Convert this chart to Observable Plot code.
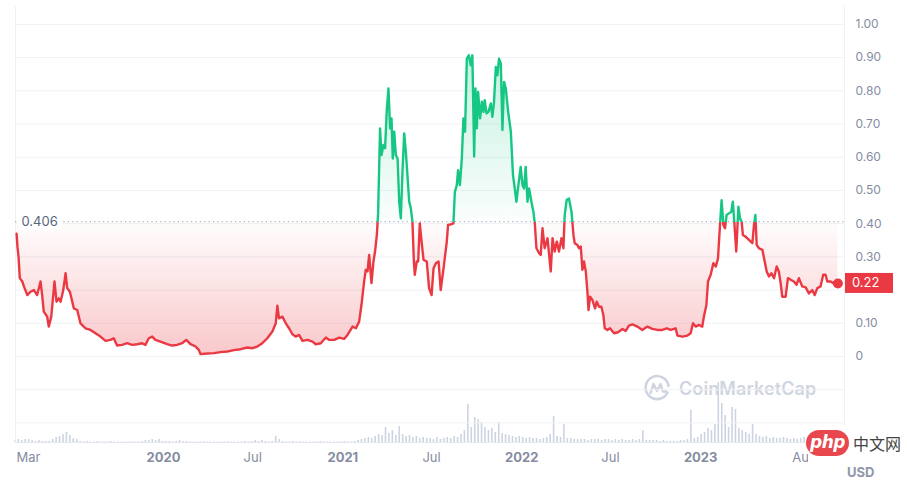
<!DOCTYPE html>
<html>
<head>
<meta charset="utf-8">
<script src="https://cdn.jsdelivr.net/npm/d3@7"></script>
<script src="https://cdn.jsdelivr.net/npm/@observablehq/plot@0.6"></script>
<style>
  html, body { margin: 0; padding: 0; background: #ffffff; }
  #wrap { position: relative; width: 907px; height: 480px; overflow: hidden; font-family: Inter, "Noto Sans", sans-serif; }
  #wrap > svg { position: absolute; left: 0; top: 0; }
  #cmc { position: absolute; left: 643px; top: 374px; display: flex; align-items: center; gap: 8px; color: #cfd5e0; }
  #cmc span { font: 600 18px Inter, sans-serif; letter-spacing: 0.1px; }
  #wm { position: absolute; left: 808px; top: 425px; width: 99px; height: 44px; background: #ffffff; }
  #php { position: absolute; left: 806px; top: 430px; width: 43px; height: 26px; border-radius: 13px; background: #e8474d;
         color: #fff; font: italic 700 17px "DejaVu Sans", sans-serif; text-align: center; line-height: 25px; letter-spacing: -0.5px; }
  #cn { position: absolute; left: 853px; top: 431px; font: 400 16px "Noto Sans CJK SC", sans-serif; color: #444; }
  #usd { position: absolute; left: 847px; top: 464px; font: 700 13px Inter, sans-serif; color: #8f97a8; }
</style>
</head>
<body>
<div id="wrap"></div>
<script>
// ---- Price (USD), dates as decimal years ----
const priceYears = [
  2019.179,2019.184,2019.190,2019.197,2019.211,2019.220,2019.239,2019.257,2019.276,2019.294,
  2019.313,2019.322,2019.331,2019.350,2019.359,2019.373,2019.391,2019.402,2019.415,2019.425,
  2019.440,2019.453,2019.462,2019.477,2019.499,2019.518,2019.536,2019.564,2019.592,2019.620,
  2019.648,2019.676,2019.704,2019.722,2019.741,2019.769,2019.797,2019.825,2019.853,2019.881,
  2019.899,2019.918,2019.937,2019.955,2019.983,2020.021,2020.049,2020.076,2020.104,2020.127,
  2020.151,2020.179,2020.197,2020.207,2020.244,2020.281,2020.318,2020.356,2020.393,2020.430,
  2020.468,2020.496,2020.523,2020.551,2020.579,2020.607,2020.626,2020.635,2020.644,2020.663,
  2020.682,2020.700,2020.719,2020.737,2020.756,2020.775,2020.803,2020.831,2020.849,2020.877,
  2020.905,2020.924,2020.952,2020.980,2021.007,
  2021.026,2021.054,2021.073,2021.091,2021.104,2021.119,2021.128,2021.138,2021.147,2021.160,
  2021.171,2021.180,2021.190,2021.197,2021.208,2021.216,2021.227,2021.236,2021.246,2021.255,
  2021.264,2021.272,2021.279,2021.287,2021.296,2021.306,2021.315,2021.324,2021.334,2021.343,
  2021.352,2021.361,2021.371,2021.380,2021.389,2021.397,2021.402,2021.413,2021.421,2021.430,
  2021.440,2021.451,2021.469,2021.482,2021.496,2021.507,2021.520,2021.535,2021.547,2021.563,
  2021.581,2021.588,2021.603,2021.618,2021.626,2021.637,2021.644,2021.654,2021.665,2021.674,
  2021.683,2021.693,2021.704,2021.715,2021.724,2021.734,2021.741,2021.749,2021.756,2021.767,
  2021.777,2021.786,2021.793,2021.803,2021.814,2021.827,2021.836,2021.845,2021.855,2021.864,
  2021.873,2021.883,2021.892,2021.901,2021.911,2021.924,2021.939,2021.951,2021.961,2021.970,
  2021.979,2021.994,2022.004,2022.013,2022.022,2022.032,2022.041,2022.054,2022.065,2022.073,
  2022.082,2022.097,2022.106,2022.116,2022.128,2022.144,2022.162,2022.172,2022.184,2022.196,
  2022.208,2022.222,
  2022.233,2022.240,2022.251,2022.264,2022.278,2022.289,2022.296,2022.311,2022.320,2022.330,
  2022.339,2022.348,2022.358,2022.367,2022.373,2022.382,2022.395,2022.410,2022.419,2022.432,
  2022.445,2022.456,2022.464,2022.479,2022.493,2022.516,2022.538,2022.563,2022.581,2022.599,
  2022.618,2022.646,2022.674,2022.702,2022.730,2022.758,2022.786,2022.810,2022.832,2022.860,
  2022.870,2022.898,2022.926,2022.944,2022.957,2022.972,2022.991,2023.009,2023.018,2023.032,
  2023.041,2023.056,2023.071,2023.085,2023.097,2023.108,2023.117,2023.127,2023.136,2023.145,
  2023.158,2023.171,2023.180,2023.188,2023.199,2023.211,2023.220,2023.229,2023.236,2023.251,
  2023.270,2023.289,2023.298,2023.306,2023.313,2023.326,2023.345,2023.358,2023.369,2023.382,
  2023.395,2023.410,2023.425,2023.437,2023.447,2023.456,2023.475,2023.488,2023.503,2023.521,
  2023.536,2023.549,2023.568,2023.587,2023.605,2023.624,2023.637,2023.652,2023.670,2023.685,
  2023.698,2023.708,2023.726,2023.741,2023.754,2023.767
];
const priceValues = [
  0.370,0.330,0.300,0.236,0.226,0.211,0.185,0.195,0.200,0.185,
  0.226,0.185,0.135,0.120,0.090,0.120,0.226,0.165,0.175,0.165,
  0.200,0.251,0.206,0.195,0.145,0.140,0.100,0.085,0.080,0.070,
  0.060,0.047,0.050,0.055,0.033,0.035,0.040,0.035,0.037,0.040,
  0.035,0.055,0.060,0.050,0.045,0.037,0.033,0.035,0.040,0.050,
  0.037,0.030,0.020,0.007,0.009,0.010,0.013,0.015,0.019,0.022,
  0.027,0.025,0.030,0.040,0.055,0.075,0.100,0.153,0.115,0.120,
  0.100,0.085,0.067,0.060,0.065,0.047,0.050,0.045,0.037,0.040,
  0.057,0.050,0.050,0.057,0.053,
  0.065,0.090,0.085,0.105,0.155,0.226,0.261,0.256,0.306,0.221,
  0.286,0.316,0.366,0.431,0.687,0.607,0.637,0.627,0.747,0.807,
  0.687,0.717,0.596,0.677,0.607,0.596,0.466,0.416,0.566,0.672,
  0.617,0.546,0.466,0.446,0.406,0.286,0.246,0.286,0.286,0.401,
  0.346,0.291,0.286,0.206,0.185,0.266,0.281,0.286,0.200,0.266,
  0.346,0.396,0.398,0.401,0.496,0.516,0.561,0.516,0.596,0.717,
  0.677,0.897,0.907,0.877,0.907,0.602,0.807,0.687,0.797,0.717,
  0.767,0.737,0.772,0.732,0.737,0.762,0.722,0.767,0.872,0.847,
  0.897,0.882,0.682,0.827,0.807,0.737,0.677,0.546,0.506,0.466,
  0.506,0.571,0.516,0.506,0.571,0.466,0.506,0.466,0.436,0.401,
  0.326,0.311,0.306,0.386,0.326,0.356,0.256,0.356,0.316,0.346,
  0.316,0.356,
  0.326,0.426,0.471,0.476,0.436,0.366,0.341,0.336,0.326,0.331,
  0.261,0.286,0.256,0.195,0.140,0.180,0.170,0.145,0.165,0.150,
  0.150,0.125,0.085,0.080,0.085,0.070,0.073,0.083,0.077,0.093,
  0.097,0.090,0.080,0.090,0.083,0.080,0.080,0.085,0.080,0.085,
  0.063,0.060,0.063,0.070,0.100,0.090,0.095,0.090,0.120,0.155,
  0.226,0.246,0.281,0.271,0.296,0.396,0.471,0.396,0.386,0.426,
  0.431,0.436,0.466,0.406,0.316,0.451,0.416,0.406,0.366,0.361,
  0.351,0.341,0.396,0.426,0.336,0.326,0.321,0.286,0.256,0.241,
  0.251,0.236,0.271,0.256,0.221,0.180,0.180,0.236,0.231,0.226,
  0.216,0.236,0.211,0.208,0.190,0.200,0.185,0.206,0.211,0.246,
  0.246,0.226,0.226,0.221,0.226,0.220
];
const baselinePrice = 0.406;
const baselineLabel = "0.406";
const lastPriceLabel = "0.22";

// ---- Trading volume (relative), weekly from volumeStart ----
const volumeStart = "2019-03-04";
const volumeStepDays = 7;
const volume = [
  2,3,2,3,3,2,1,2, 1,1,1, 3,5,6,8,10,7,4,3,
  1,0.5,1,0.5,0.5,1,0.5,0.5,0.5,1,0.5,0.5,0.5,0.5,0.5,0.5,0.5,0.5,1,
  2,2,3,2,3,1,1, 1,0.5,1,2,1,1,0.5,0.5,
  0.5,0.5,0.5,0.5,0.5,0.5,0.5,0.5,0.5,0.5,0.5,0.5,0.5,0.5,1,
  0.5,1,2,1,2,1,0.5,1,6,3,1,
  0.5,0.5,1,0.5,0.5,0.5,0.5,0.5,0.5,0.5,1,0.5,0.5,0.5,0.5,0.5,0.5,1,0.5,0.5,1,2,
  3,4,5,4,6,8,7,15,9,12,7,16,8,6,7,5,6,4,5,4,4,3,5,3,4,5,4,6,5,8,
  12,38,15,25,23,20,15,12,14,10,20,9,8,7,6,5,6,5,4,5,
  4,4,3,4,5,8,26,6,5,18,4,4,3,3,3,3,2,3,3,3,
  2,3,3,2,3,2,3,2,2,3,2,3,12,2,2,
  2,2,1,2,1,1,1,1,2,2,3,
  32,4,5,8,10,14,12,18,60,39,27,15,35,33,14,12,10,8,18,
  8,6,5,6,4,5,4,4,5,4,3,4,3,4,5,3,3,3,2,2,3,2,2
];
const volumeMax = 436;

// ---- Axes ----
const xDomainYears = [2019.173, 2023.804];
const yDomain = [-0.259, 1.054];
const yTickValues = [0, 0.1, 0.3, 0.4, 0.5, 0.6, 0.7, 0.8, 0.9, 1.0];
const gridValues = [-0.2, -0.1, 0, 0.1, 0.2, 0.3, 0.4, 0.5, 0.6, 0.7, 0.8, 0.9, 1.0];
const xYearTicks = ["2020-01-01", "2021-01-01", "2022-01-01", "2023-01-01"];
const xYearLabels = ["2020", "2021", "2022", "2023"];
const xMonthTicks = ["2020-07-01", "2021-07-01", "2022-07-01", "2023-08-01"];
const xMonthLabels = ["Jul", "Jul", "Jul", "Aug"];
const xFirstLabel = "Mar";

// ---- helpers ----
function fromDecimalYear(v) {
  const y = Math.floor(v);
  const a = Date.UTC(y, 0, 1), b = Date.UTC(y + 1, 0, 1);
  return new Date(a + (v - y) * (b - a));
}
const GREEN = "#16c784", RED = "#ea3943", AXIS = "#858ca2", GRID = "#eff2f5";
const W = 907, H = 480, MT = 6, MR = 63, MB = 38, ML = 15;
const xDomain = xDomainYears.map(fromDecimalYear);

const price = priceYears.map((t, i) => ({date: fromDecimalYear(t), value: priceValues[i]}));
const last = price[price.length - 1];
const vol = volume.map((v, i) => ({date: new Date(Date.parse(volumeStart) + i * volumeStepDays * 864e5), value: v}));
const yearTicks = xYearTicks.map((d, i) => ({date: new Date(d), label: xYearLabels[i]}));
const monthTicks = xMonthTicks.map((d, i) => ({date: new Date(d), label: xMonthLabels[i]}));

const common = {
  width: W, height: H, marginTop: MT, marginRight: MR, marginBottom: MB, marginLeft: ML,
  style: {background: "transparent", fontFamily: "Inter, sans-serif", fontSize: "12px", overflow: "visible"}
};

// Volume layer
const volPlot = Plot.plot({
  ...common,
  x: {type: "utc", domain: xDomain, axis: null},
  y: {domain: [0, volumeMax], axis: null},
  marks: [
    Plot.ruleX(vol, {x: "date", y1: 0, y2: "value", stroke: "#cdd4e1", strokeWidth: 1.6})
  ]
});

// Price layer
const main = Plot.plot({
  ...common,
  x: {type: "utc", domain: xDomain, axis: null},
  y: {domain: yDomain, axis: null},
  marks: [
    Plot.ruleY(gridValues, {stroke: GRID, strokeWidth: 1}),
    Plot.ruleX(xDomain, {stroke: GRID, strokeWidth: 1}),
    Plot.ruleY([yDomain[0]], {stroke: "#e4e8ee", strokeWidth: 1}),
    Plot.areaY(price, {x: "date", y1: () => baselinePrice, y2: "value", fill: "url(#cmcFill)"}),
    Plot.ruleY([baselinePrice], {stroke: "#aab2c2", strokeWidth: 1.2, strokeDasharray: "1.2,3.2"}),
    Plot.line(price, {x: "date", y: "value", stroke: "url(#cmcStroke)", strokeWidth: 2.4, strokeLinejoin: "round", strokeLinecap: "round"}),
    Plot.dot([last], {x: "date", y: "value", r: 5, fill: RED}),
    Plot.text([baselinePrice], {y: d => d, text: () => baselineLabel, frameAnchor: "left", dx: 6, textAnchor: "start",
      fill: "#58667e", stroke: "white", strokeWidth: 10, paintOrder: "stroke", fontSize: 13}),
    Plot.text(yTickValues, {y: d => d, text: d => d === 0 ? "0" : d.toFixed(2), frameAnchor: "right", dx: 11,
      textAnchor: "start", fill: AXIS, fontSize: 12}),
    Plot.text(yearTicks, {x: "date", text: "label", frameAnchor: "bottom", dy: 19, fill: AXIS, fontSize: 13, fontWeight: 700}),
    Plot.text(monthTicks, {x: "date", text: "label", frameAnchor: "bottom", dy: 19, fill: AXIS, fontSize: 13}),
    Plot.text([{date: xDomain[0], label: xFirstLabel}], {x: "date", text: "label", frameAnchor: "bottom", dy: 19, dx: 1,
      textAnchor: "start", fill: AXIS, fontSize: 13})
  ]
});

// gradients from the y scale
const ys = main.scale("y");
const yTop = ys.apply(0.91), yBase = ys.apply(baselinePrice), yBot = ys.apply(0);
const f = (yBase - yTop) / (yBot - yTop);
const ns = "http://www.w3.org/2000/svg";
const defs = document.createElementNS(ns, "defs");
defs.innerHTML = `
  <linearGradient id="cmcFill" gradientUnits="userSpaceOnUse" x1="0" x2="0" y1="${yTop}" y2="${yBot}">
    <stop offset="0" stop-color="${GREEN}" stop-opacity="0.25"/>
    <stop offset="${f}" stop-color="${GREEN}" stop-opacity="0.02"/>
    <stop offset="${f}" stop-color="${RED}" stop-opacity="0.01"/>
    <stop offset="1" stop-color="${RED}" stop-opacity="0.28"/>
  </linearGradient>
  <linearGradient id="cmcStroke" gradientUnits="userSpaceOnUse" x1="0" x2="0" y1="${yTop}" y2="${yBot}">
    <stop offset="0" stop-color="${GREEN}"/>
    <stop offset="${f}" stop-color="${GREEN}"/>
    <stop offset="${f}" stop-color="${RED}"/>
    <stop offset="1" stop-color="${RED}"/>
  </linearGradient>`;
main.insertBefore(defs, main.firstChild);

// last price badge on the right axis
const yLast = ys.apply(last.value);
const xRight = W - MR;
const g = document.createElementNS(ns, "g");
g.innerHTML = `<rect x="${xRight + 1}" y="${yLast - 10}" width="48" height="20" fill="${RED}"/>
  <text x="${xRight + 8}" y="${yLast}" dy="0.35em" text-anchor="start" fill="white" font-size="13" font-family="Inter, sans-serif">${lastPriceLabel}</text>`;
main.appendChild(g);

const wrap = document.getElementById("wrap");
wrap.appendChild(volPlot);
const cmc = document.createElement("div");
cmc.id = "cmc";
cmc.innerHTML = `<svg width="28" height="28" viewBox="0 0 28 28">
  <path d="M24.5 18.5 A11.5 11.5 0 1 1 25.5 12" fill="none" stroke="#cfd5e0" stroke-width="2.6" stroke-linecap="round"/>
  <path d="M7.5 19 L10.5 10 L14 17 L17.5 10 L19.5 16.5 Q20.5 19 23 17" fill="none" stroke="#cfd5e0" stroke-width="2.4" stroke-linejoin="round" stroke-linecap="round"/>
  </svg><span>CoinMarketCap</span>`;
wrap.appendChild(cmc);
wrap.appendChild(main);
const wm = document.createElement("div"); wm.id = "wm"; wrap.appendChild(wm);
const usd = document.createElement("div"); usd.id = "usd"; usd.textContent = "USD"; wrap.appendChild(usd);
const php = document.createElement("div"); php.id = "php"; php.textContent = "php"; wrap.appendChild(php);
const cn = document.createElement("div"); cn.id = "cn"; cn.textContent = "中文网"; wrap.appendChild(cn);
</script>
</body>
</html>
